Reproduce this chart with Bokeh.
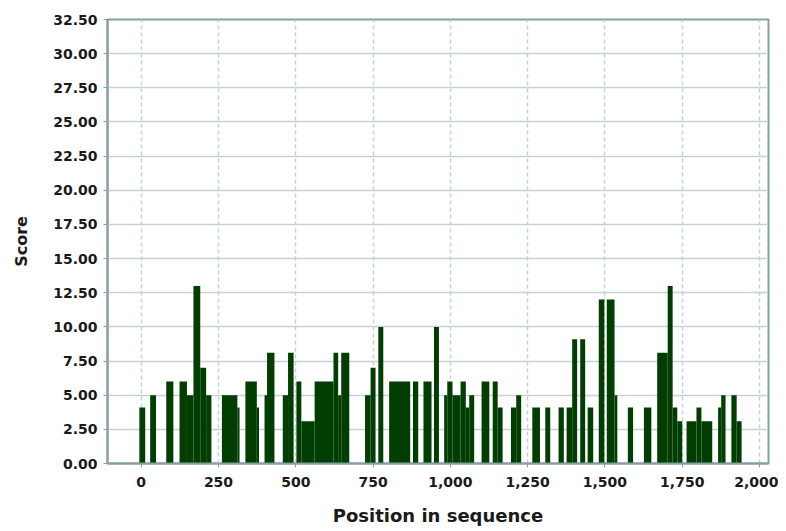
from bokeh.plotting import figure
from bokeh.models import Range1d, SingleIntervalTicker, NumeralTickFormatter, ColumnDataSource
from bokeh.embed import file_html
from bokeh.resources import INLINE

# Scored regions along the sequence (start, end in sequence positions; score)
region_start = [-6, 29, 81, 124, 148, 169, 191, 210, 261, 311, 337, 374, 399, 407, 458, 475,
                502, 518, 561, 622, 637, 647, 724, 742, 767, 802, 879, 913, 947, 980, 990,
                1007, 1033, 1050, 1061, 1101, 1137, 1153, 1196, 1213, 1265, 1307, 1350, 1376,
                1394, 1420, 1444, 1480, 1506, 1531, 1574, 1626, 1669, 1703, 1719, 1734, 1764,
                1796, 1812, 1866, 1876, 1909, 1926]
region_end = [13, 48, 104, 148, 169, 191, 210, 227, 311, 318, 374, 381, 407, 431, 475, 493,
              518, 561, 622, 637, 647, 673, 742, 758, 783, 870, 896, 939, 963, 990, 1007,
              1033, 1050, 1061, 1077, 1126, 1153, 1169, 1213, 1229, 1290, 1323, 1367, 1394,
              1410, 1436, 1462, 1498, 1531, 1540, 1591, 1650, 1703, 1719, 1734, 1750, 1796,
              1812, 1847, 1876, 1890, 1926, 1942]
scores = [4.1, 5, 6, 6, 5, 13, 7, 5, 5, 4.1, 6, 4.1, 5, 8.1, 5, 8.1,
          6, 3.1, 6, 8.1, 5, 8.1, 5, 7, 10, 6, 6, 6, 10, 5, 6,
          5, 6, 4.1, 5, 6, 6, 4.1, 4.1, 5, 4.1, 4.1, 4.1, 4.1,
          9.1, 9.1, 4.1, 12, 12, 5, 4.1, 4.1, 8.1, 13, 4.1, 3.1, 3.1,
          4.1, 3.1, 4.1, 5, 5, 3.1]

x_label = "Position in sequence"
y_label = "Score"

src = ColumnDataSource(dict(left=region_start, right=region_end,
                            top=scores, bottom=[0] * len(scores)))

p = figure(width=778, height=530, output_backend="svg", toolbar_location=None,
           x_range=Range1d(-109, 2029), y_range=Range1d(0, 32.5),
           min_border_left=107, min_border_right=10, min_border_top=19, min_border_bottom=67)

axis_col = "#86a0a0"
grid_col = "#c6d2d2"

p.quad(left="left", right="right", top="top", bottom="bottom", source=src,
       fill_color="#023d02", line_color=None)

p.xaxis.ticker = SingleIntervalTicker(interval=250)
p.yaxis.ticker = SingleIntervalTicker(interval=2.5)
p.xaxis.formatter = NumeralTickFormatter(format="0,0")
p.yaxis.formatter = NumeralTickFormatter(format="0.00")

p.xgrid.grid_line_color = grid_col
p.xgrid.grid_line_dash = "4 3"
p.xgrid.grid_line_width = 1.5
p.ygrid.grid_line_color = grid_col
p.ygrid.grid_line_width = 1.5

for ax in (p.xaxis[0], p.yaxis[0]):
    ax.axis_line_color = axis_col
    ax.axis_line_width = 2
    ax.major_tick_line_color = axis_col
    ax.major_tick_out = 4
    ax.major_tick_in = 0
    ax.minor_tick_line_color = None
    ax.major_label_text_font = "DejaVu Sans"
    ax.major_label_text_font_style = "bold"
    ax.major_label_text_font_size = "14px"
    ax.major_label_text_color = "#1a1a1a"
    ax.axis_label_text_font = "DejaVu Sans"
    ax.axis_label_text_font_style = "bold"
    ax.axis_label_text_color = "#1a1a1a"

p.xaxis.axis_label = x_label
p.yaxis.axis_label = y_label
p.xaxis.axis_label_text_font_size = "18px"
p.yaxis.axis_label_text_font_size = "16px"
p.xaxis.major_label_standoff = 9
p.yaxis.major_label_standoff = 6
p.xaxis.axis_label_standoff = 15
p.yaxis.axis_label_standoff = 19

p.outline_line_color = axis_col
p.outline_line_width = 2
p.background_fill_color = "white"
p.border_fill_color = "white"

open("out.html", "w").write(file_html(p, INLINE))
